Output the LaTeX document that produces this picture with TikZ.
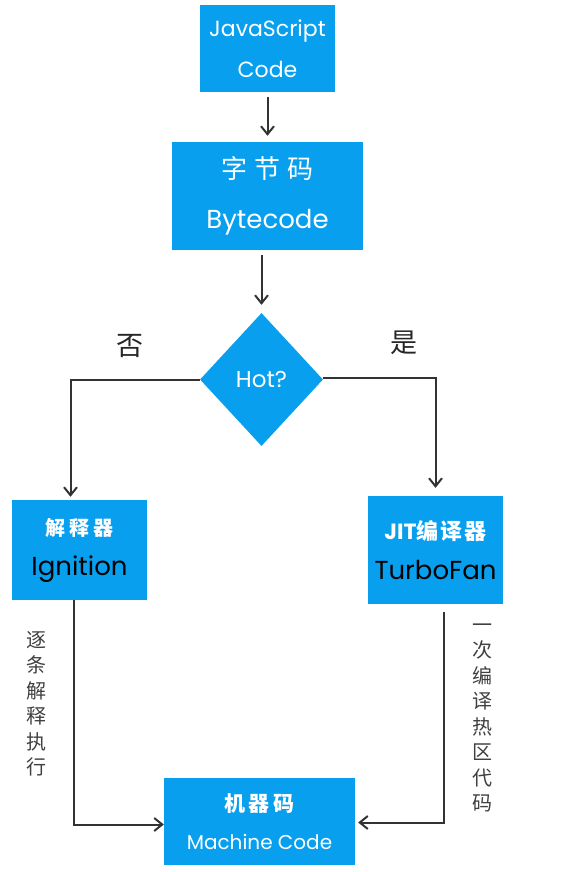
\documentclass[tikz,border=0pt]{standalone}
\usepackage{fontspec}
\setmainfont{Poppins}
\newfontfamily\cjk{Noto Sans CJK SC}
\usetikzlibrary{shapes.geometric,arrows.meta}
\definecolor{boxblue}{RGB}{8,160,238}

\begin{document}
\begin{tikzpicture}[x=1pt, y=-1pt,
		box/.style={fill=boxblue, inner sep=0pt, align=center, text=white},
		flow/.style={-{Straight Barb[length=8pt, width=13pt, line width=2pt]}, line width=2pt, color=black!80},
		side/.style={align=center, color=black!75, font=\cjk\fontsize{20}{25.5}\selectfont}]
		%%%%% START %%%%%
		
		\useasboundingbox (0, 0) rectangle (572, 872);
		
		\node[box, minimum width=135, minimum height=87, font=\fontsize{22}{41}\selectfont] (js) at (267.5, 48.5) {JavaScript\\Code};
		\node[box, minimum width=191, minimum height=108, font=\fontsize{26}{50}\selectfont] (bc) at (267.5, 196) {{\cjk 字\hspace{7pt}节\hspace{7pt}码}\\Bytecode};
		
		\node[box, shape=diamond, aspect=0.92, minimum width=123, minimum height=133, font=\fontsize{23}{24}\selectfont] (hot) at (261.5, 379.5) {Hot?};
		
		\node[box, minimum width=135, minimum height=100, font=\fontsize{26}{40}\selectfont] (ign) at (79.5, 550) {{\cjk\bfseries\fontsize{20}{20}\selectfont 解\hspace{4pt}释\hspace{4pt}器}\\\textcolor{black}{Ignition}};
		\node[box, minimum width=135, minimum height=108, font=\fontsize{26}{40}\selectfont] (tf) at (435.5, 550) {{\bfseries\fontsize{22}{20}\selectfont JIT{\cjk 编\hspace{2pt}译\hspace{2pt}器}}\\\textcolor{black}{TurboFan}};
		
		\node[box, minimum width=191, minimum height=87, font=\fontsize{20}{38}\selectfont] (mc) at (259.5, 821.5) {{\cjk\bfseries\fontsize{21}{20}\selectfont 机\hspace{4pt}器\hspace{4pt}码}\\Machine Code};
		
		\node[font=\cjk\fontsize{27}{27}\selectfont, color=black!85] (no) at (130, 346) {否};
		\node[font=\cjk\fontsize{27}{27}\selectfont, color=black!85] (yes) at (404, 343) {是};
		
		\node[side] (leftnote) at (36, 704) {逐\\条\\解\\释\\执\\行};
		\node[side] (rightnote) at (482, 718) {一\\次\\编\\译\\热\\区\\代\\码};
		
		\draw[flow, shorten <=5pt, shorten >=6pt] (js) -- (bc);
		\draw[flow, shorten <=5pt, shorten >=8pt] (hot.north |- bc.south) -- (hot.north);
		
		\draw[flow, shorten >=3pt] (hot.west) -| ([xshift=-9pt]ign.north);
		\draw[flow, shorten >=8pt] ([yshift=2pt]hot.east) -| (tf.north);
		
		\draw[flow] ([xshift=-6pt]ign.south) |- ([yshift=-3pt]mc.west);
		\draw[flow, shorten <=8pt, shorten >=3pt] ([xshift=8.5pt]tf.south) |- ([yshift=-1pt]mc.east);
		
		%%%%% END %%%%%
\end{tikzpicture}
\end{document}
